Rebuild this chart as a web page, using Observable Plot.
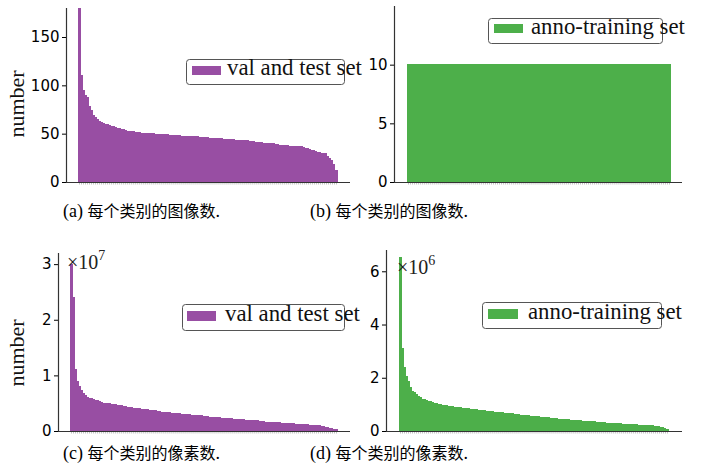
<!DOCTYPE html>
<html><head><meta charset="utf-8">
<script src="https://cdn.jsdelivr.net/npm/d3@7"></script>
<script src="https://cdn.jsdelivr.net/npm/@observablehq/plot@0.6"></script>
<style>
html,body{margin:0;padding:0;background:#fff;}
#root{position:relative;width:704px;height:475px;overflow:hidden;background:#fff;}
</style></head><body><div id="root"></div>
<script>
// (a) images per category, val and test set (sorted)
const imagesValTest = [190,110,95,90,87,78,74,69,67,65,63,62,61,60,59,58,57,57,56,55,55,54,54,53,
52,52,52,52,51,51,51,
50,50,50,50,50,50,50,
49,49,49,49,49,49,49,
48,48,48,48,48,48,
47,47,47,47,47,47,47,47,47,
46,46,46,46,46,
45,45,45,45,45,45,45,
44,44,44,44,44,44,
43,43,43,43,43,43,43,
42,42,42,41,41,41,41,
40,40,40,40,40,40,
39,39,38,38,38,38,38,
37,37,37,37,37,37,37,
36,35,35,34,33,33,32,31,31,30,30,29,26,24,22,18,12];
// (b) images per category, anno-training set
const imagesAnnoTraining = [10,10,10,10,10,10,10,10,10,10,10,10,10,10,10,10,10,10,10,10,
10,10,10,10,10,10,10,10,10,10,10,10,10,10,10,10,10,10,10,10,
10,10,10,10,10,10,10,10,10,10,10,10,10,10,10,10,10,10,10,10,
10,10,10,10,10,10,10,10,10,10,10,10,10,10,10,10,10,10,10,10,
10,10,10,10,10,10,10,10,10,10,10,10,10,10,10,10,10,10,10,10,
10,10,10,10,10,10,10,10,10,10,10,10,10,10,10,10,10,10,10,10,
10,10,10,10,10,10,10,10,10,10];
// (c) pixels per category, val and test set (x 10^7)
const pixelsValTest = [3.0,2.4,1.1,0.89,0.80,0.72,0.67,0.63,0.61,0.59,0.58,0.56,0.55,0.54,0.53,0.52,0.50,
0.50,0.49,0.49,0.48,0.47,0.47,0.46,0.46,
0.45,0.44,0.44,0.43,0.43,0.42,0.41,0.41,0.40,0.40,
0.39,0.39,0.38,0.38,0.37,0.37,0.36,0.36,
0.35,0.35,0.34,0.34,0.33,0.33,0.33,0.32,
0.32,0.31,0.31,0.31,0.30,0.30,0.30,
0.29,0.29,0.28,0.28,0.28,0.27,0.27,0.27,0.26,0.26,
0.26,0.25,0.25,0.25,0.24,0.24,0.24,0.23,0.23,0.23,
0.22,0.22,0.22,0.21,0.21,0.21,0.20,0.20,0.20,0.19,
0.19,0.19,0.18,0.18,0.18,0.18,0.17,0.17,0.17,0.16,
0.16,0.16,0.16,0.15,0.15,0.15,0.15,0.14,0.14,0.14,
0.14,0.13,0.13,0.13,0.12,0.12,0.12,0.12,0.11,0.11,
0.11,0.10,0.10,0.10,0.09,0.09,0.09,
0.08,0.08,0.07,0.07,0.05,0.04,0.03,0.02];
// (d) pixels per category, anno-training set (x 10^6)
const pixelsAnnoTraining = [6.5,3.1,2.4,2.05,1.85,1.62,1.5,1.45,1.36,1.3,1.25,1.2,1.17,1.14,1.11,1.09,1.07,1.04,1.02,1.00,0.99,0.97,
0.96,0.94,0.93,0.92,0.91,0.90,0.89,
0.88,0.87,0.86,0.85,0.84,0.83,0.82,
0.81,0.80,0.79,0.78,0.78,0.77,0.76,0.75,
0.74,0.73,0.72,0.71,0.70,0.70,0.69,0.68,0.67,
0.66,0.65,0.64,0.64,0.63,0.62,0.61,0.60,
0.59,0.58,0.57,0.57,0.56,0.55,0.54,0.53,0.53,0.52,
0.51,0.50,0.50,0.49,0.48,0.47,0.47,0.46,0.45,0.45,
0.44,0.43,0.43,0.42,0.41,0.41,0.40,0.39,0.39,0.38,
0.37,0.37,0.36,0.36,0.35,0.34,0.34,0.33,0.33,0.32,
0.31,0.31,0.30,0.30,0.29,0.29,0.28,0.28,0.27,0.27,
0.26,0.26,0.25,0.25,0.24,0.24,0.23,0.23,0.22,0.22,
0.21,0.21,0.20,0.20,0.19,0.19,0.18,0.17,
0.16,0.15,0.13,0.10,0.07];

const yTicksA = [0, 50, 100, 150];
const yTicksB = [0, 5, 10];
const yTicksC = [0, 1, 2, 3];
const yTicksD = [0, 2, 4, 6];
const seriesNames = ["val and test set", "anno-training set"];
const yLabel = "number";
const captionLabels = ["(a)", "(b)", "(c)", "(d)"];
const captionTexts = ["每个类别的图像数.", "每个类别的图像数.", "每个类别的像素数.", "每个类别的像素数."];
const offsetExponents = ["7", "6"];

const PURPLE = "#984ea3", GREEN = "#4daf4a";
const root = document.getElementById("root");

function panel(values, cfg) {
  const N = values.length;
  const table = values.map((v, i) => ({i, v}));
  const frameL = cfg.ml, frameR = cfg.w - cfg.mr;
  const barL = cfg.barL - cfg.left, barR = cfg.barR - cfg.left;
  const unit = (barR - barL) / N;
  const lo = -(barL - frameL) / unit;
  const hi = N + (frameR - barR) / unit;
  const frameH = cfg.h - cfg.mt - cfg.mb;
  const tick = 2.5 * cfg.yMax / frameH;
  const svg = Plot.plot({
    width: cfg.w, height: cfg.h,
    marginLeft: cfg.ml, marginRight: cfg.mr, marginTop: cfg.mt, marginBottom: cfg.mb,
    style: {fontFamily: "DejaVu Sans", fontSize: "15px", color: "#000", background: "transparent", overflow: "visible"},
    x: {domain: [lo, hi], axis: null},
    y: {domain: [0, cfg.yMax], ticks: cfg.ticks, tickSize: 4, tickPadding: 3, tickFormat: d3.format("d"), label: null},
    marks: [
      Plot.rectY(table, {x1: "i", x2: d => d.i + 1, y1: 0, y2: "v", fill: cfg.color, stroke: cfg.color, strokeWidth: 1, shapeRendering: "crispEdges", clip: true}),
      Plot.ruleX(table, {x: d => d.i + 0.5, y1: 0, y2: -tick, stroke: "#222", strokeOpacity: 0.4, strokeWidth: 0.7}),
      Plot.ruleY([0], {stroke: "#333", strokeWidth: 1.2}),
      Plot.ruleX([lo], {stroke: "#333", strokeWidth: 1.2})
    ]
  });
  svg.style.position = "absolute";
  svg.style.left = cfg.left + "px";
  svg.style.top = cfg.top + "px";
  root.appendChild(svg);
}

panel(imagesValTest, {left: 0, top: 0, w: 352, h: 190, ml: 66, mr: 2, mt: 8, mb: 8, barL: 78, barR: 337, yMax: 180, ticks: yTicksA, color: PURPLE});
panel(imagesAnnoTraining, {left: 352, top: 0, w: 352, h: 190, ml: 42, mr: 22, mt: 6, mb: 8, barL: 407, barR: 670, yMax: 15, ticks: yTicksB, color: GREEN});
panel(pixelsValTest, {left: 0, top: 240, w: 352, h: 200, ml: 58, mr: 2, mt: 13, mb: 9, barL: 70, barR: 337, yMax: 3.2, ticks: yTicksC, color: PURPLE});
panel(pixelsAnnoTraining, {left: 352, top: 240, w: 352, h: 200, ml: 34, mr: 22, mt: 10, mb: 9, barL: 399, barR: 668, yMax: 6.8, ticks: yTicksD, color: GREEN});

// annotation overlay
const ov = d3.select(root).append("svg")
  .attr("width", 704).attr("height", 475)
  .style("position", "absolute").style("left", "0px").style("top", "0px")
  .style("overflow", "visible");

const SERIF = "'Liberation Serif', 'DejaVu Serif', serif";

// legends
const legends = [
  {box: [186, 59, 158, 25], sw: [192, 66, 29, 9], tx: 227, ty: 75, color: PURPLE, name: seriesNames[0]},
  {box: [488, 18, 174, 25], sw: [494, 24, 29, 9], tx: 531, ty: 34, color: GREEN, name: seriesNames[1]},
  {box: [182, 304, 162, 26], sw: [187, 311, 29, 10], tx: 225, ty: 321, color: PURPLE, name: seriesNames[0]},
  {box: [482, 302, 179, 26], sw: [488, 309, 30, 10], tx: 528, ty: 319, color: GREEN, name: seriesNames[1]}
];
for (const L of legends) {
  ov.append("rect").attr("x", L.box[0] + 0.5).attr("y", L.box[1] + 0.5).attr("width", L.box[2]).attr("height", L.box[3])
    .attr("rx", 3).attr("fill", "#fff").attr("fill-opacity", 0.8).attr("stroke", "#555").attr("stroke-width", 1);
  ov.append("rect").attr("x", L.sw[0]).attr("y", L.sw[1]).attr("width", L.sw[2]).attr("height", L.sw[3]).attr("fill", L.color);
  ov.append("text").attr("x", L.tx).attr("y", L.ty).attr("font-family", SERIF).attr("font-size", 22.8).attr("fill", "#111").text(L.name);
}

// y labels
for (const [cx, cy] of [[16, 104], [16, 353]]) {
  ov.append("text").attr("transform", `translate(${cx},${cy}) rotate(-90)`)
    .attr("text-anchor", "middle").attr("dominant-baseline", "central")
    .attr("font-family", SERIF).attr("font-size", 22).attr("fill", "#111").text(yLabel);
}

// offset texts
for (const [x, y, e] of [[67, 269, offsetExponents[0]], [397, 274, offsetExponents[1]]]) {
  const t = ov.append("text").attr("x", x).attr("y", y).attr("font-family", SERIF).attr("fill", "#222");
  t.append("tspan").attr("font-size", 20).text("×10");
  t.append("tspan").attr("font-size", 14).attr("dy", -9).text(e);
}

// captions
const capPos = [[63, 217], [310, 217], [63, 459], [310, 459]];
capPos.forEach(([x, y], k) => {
  const t = ov.append("text").attr("x", x).attr("y", y).attr("fill", "#000");
  t.append("tspan").attr("font-family", SERIF).attr("font-size", 18).text(captionLabels[k] + " ");
  const body = captionTexts[k];
  t.append("tspan").attr("font-family", "'Noto Sans CJK SC', sans-serif").attr("font-weight", 400).attr("font-size", 16).text(body.slice(0, -1));
  t.append("tspan").attr("font-family", SERIF).attr("font-size", 18).text(body.slice(-1));
});
</script>
</body></html>
